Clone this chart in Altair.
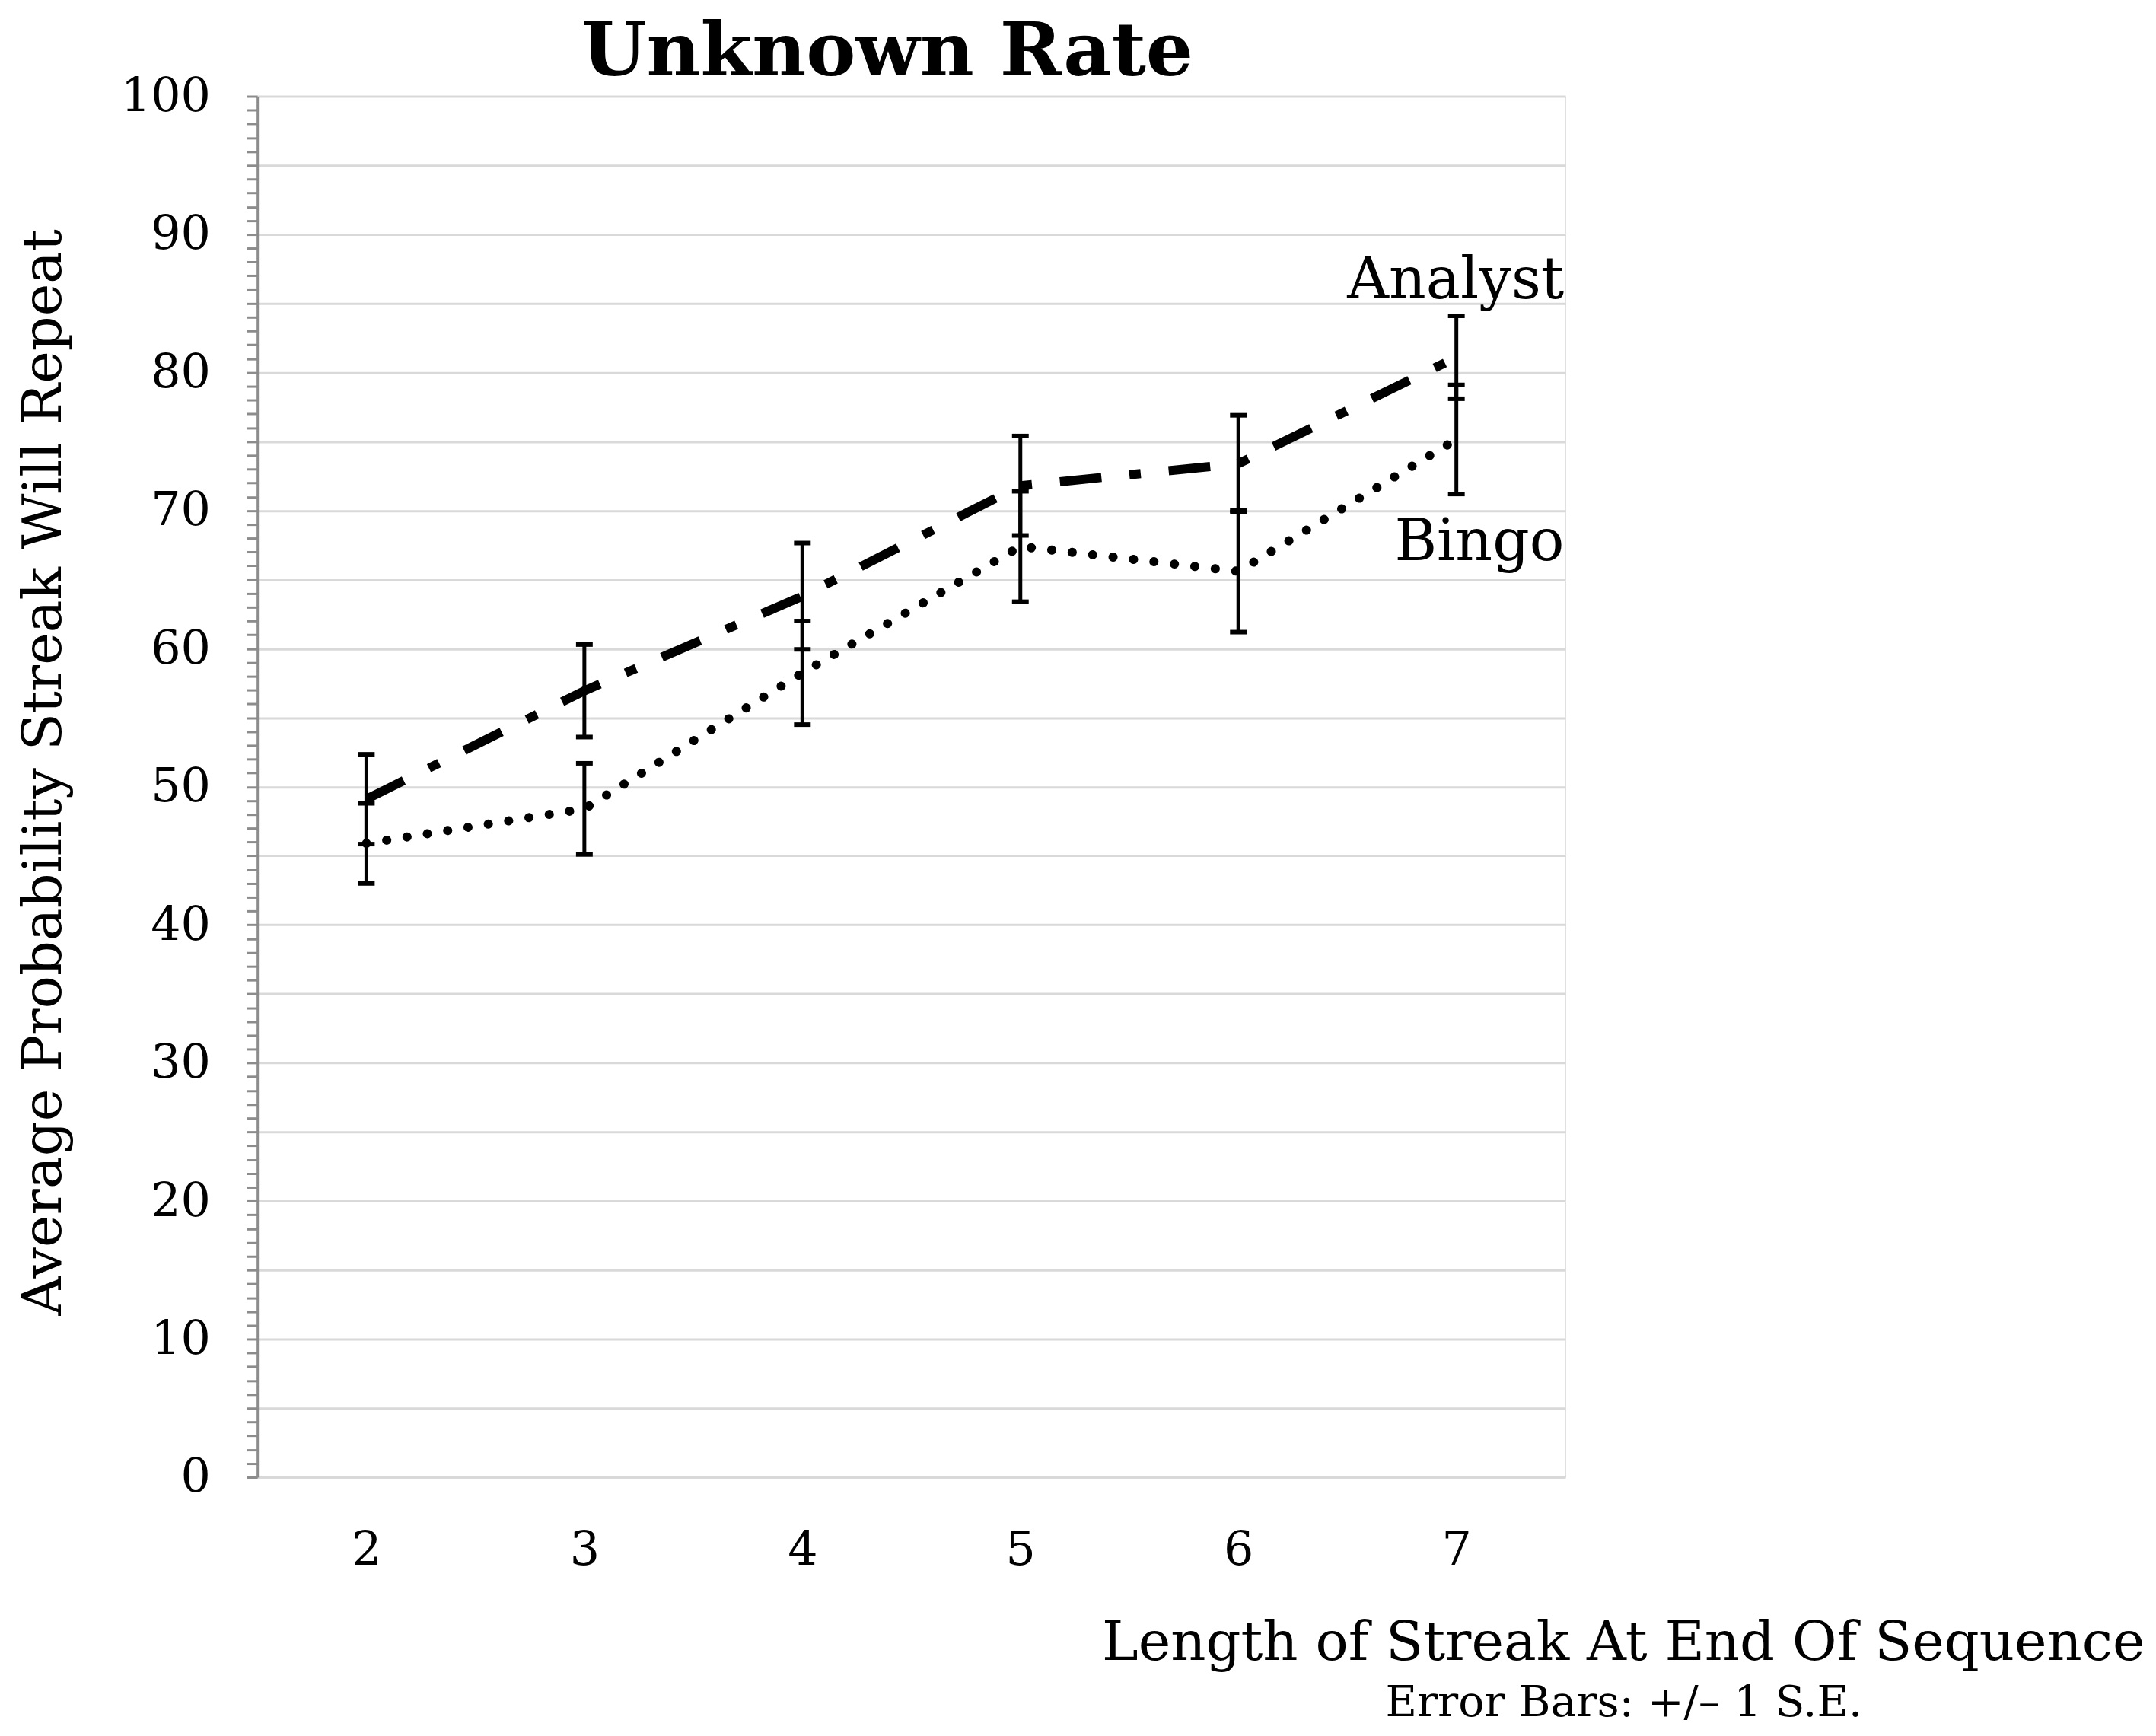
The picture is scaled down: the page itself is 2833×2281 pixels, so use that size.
import altair as alt
import pandas as pd

streak = [2, 3, 4, 5, 6, 7]
analyst_mean = [49.1, 56.95, 63.8, 71.8, 73.4, 81.1]
analyst_se = [3.25, 3.35, 3.85, 3.6, 3.5, 3.0]
bingo_mean = [45.9, 48.4, 58.25, 67.4, 65.6, 75.15]
bingo_se = [2.9, 3.3, 3.75, 4.0, 4.4, 3.95]

series_names = ["Analyst", "Bingo"]
title_text = "Unknown Rate"
y_title = "Average Probability Streak Will Repeat"
x_title = "Length of Streak At End Of Sequence"
footnote = "Error Bars: +/\u2013 1 S.E."

rows = []
for name, means, ses in [("Analyst", analyst_mean, analyst_se), ("Bingo", bingo_mean, bingo_se)]:
    for s, m, e in zip(streak, means, ses):
        rows.append({"streak": s, "value": m, "lo": m - e, "hi": m + e, "series": name})
df = pd.DataFrame(rows)

labels_df = pd.DataFrame({
    "series": series_names,
    "streak": [streak[-1], streak[-1]],
    "value": [analyst_mean[-1], bingo_mean[-1]],
})

FONT = "DejaVu Serif"

xscale = alt.Scale(domain=[1.5, 7.5], nice=False)
yscale = alt.Scale(domain=[0, 100], nice=False)

x_axis = alt.Axis(
    values=streak, format="d", grid=False, domain=False, ticks=False, tickSize=0,
    labelFont=FONT, labelFontSize=62, labelColor="#000", labelBaseline="alphabetic",
    labelPadding=115, labelFlush=False,
    title=x_title, titleFont=FONT, titleFontSize=72, titleFontWeight="normal",
    titleColor="#000", titleAlign="right", titleBaseline="alphabetic",
    titleX=2486, titleY=240, titleAnchor="end",
)

y_axis = alt.Axis(
    values=list(range(0, 101)), tickCount=200, format="d",
    labelExpr="datum.value % 10 === 0 ? datum.label : ''",
    labelOverlap=False, labelFlush=False,
    labelFont=FONT, labelFontSize=62, labelColor="#000", labelPadding=48,
    tickSize=14, tickWidth=3, tickColor="#8c8c8c",
    domainColor="#8c8c8c", domainWidth=3,
    grid=True, gridColor="#d9d9d9", gridWidth=3,
    gridOpacity={"condition": {"test": "datum.value % 5 === 0", "value": 1}, "value": 0},
    title=y_title, titleFont=FONT, titleFontSize=72, titleFontWeight="normal",
    titleColor="#000", titleBaseline="alphabetic", titleAlign="center",
    titleX=-259, titleY=890, titleAngle=270,
)

base = alt.Chart(df)

analyst_line = base.transform_filter(alt.datum.series == "Analyst").mark_line(
    color="#000", strokeWidth=12, strokeDash=[55, 37, 15, 37], strokeCap="butt"
).encode(
    x=alt.X("streak:Q", scale=xscale, axis=x_axis),
    y=alt.Y("value:Q", scale=yscale, axis=y_axis),
)

bingo_line = base.transform_filter(alt.datum.series == "Bingo").mark_line(
    color="#000", strokeWidth=12, strokeDash=[0.1, 27], strokeCap="round"
).encode(
    x=alt.X("streak:Q", scale=xscale),
    y=alt.Y("value:Q", scale=yscale),
)

err_rule = base.mark_rule(color="#000", strokeWidth=5, opacity=1).encode(
    x=alt.X("streak:Q", scale=xscale),
    y=alt.Y("lo:Q", scale=yscale),
    y2="hi:Q",
)

cap_lo = base.mark_tick(color="#000", size=22, thickness=6, opacity=1, orient="horizontal").encode(
    x=alt.X("streak:Q", scale=xscale),
    y=alt.Y("lo:Q", scale=yscale),
)
cap_hi = base.mark_tick(color="#000", size=22, thickness=6, opacity=1, orient="horizontal").encode(
    x=alt.X("streak:Q", scale=xscale),
    y=alt.Y("hi:Q", scale=yscale),
)

lab = alt.Chart(labels_df)
analyst_lab = lab.transform_filter(alt.datum.series == "Analyst").mark_text(
    font=FONT, fontSize=76, color="#000", align="right", baseline="alphabetic", dx=142, dy=-78
).encode(
    x=alt.X("streak:Q", scale=xscale),
    y=alt.Y("value:Q", scale=yscale),
    text="series:N",
)
bingo_lab = lab.transform_filter(alt.datum.series == "Bingo").mark_text(
    font=FONT, fontSize=76, color="#000", align="right", baseline="alphabetic", dx=142, dy=159
).encode(
    x=alt.X("streak:Q", scale=xscale),
    y=alt.Y("value:Q", scale=yscale),
    text="series:N",
)

foot = alt.Chart(pd.DataFrame({"t": [footnote]})).mark_text(
    font=FONT, fontSize=57, color="#000", align="center", baseline="alphabetic"
).encode(
    x=alt.value(1800), y=alt.value(2134), text="t:N"
)

title_mark = alt.Chart(pd.DataFrame({"t": [title_text]})).mark_text(
    font=FONT, fontSize=98, fontWeight="bold", color="#000", align="center", baseline="alphabetic"
).encode(
    x=alt.value(830), y=alt.value(-28), text="t:N"
)

chart = alt.layer(
    analyst_line, bingo_line, err_rule, cap_lo, cap_hi, analyst_lab, bingo_lab, foot, title_mark
).properties(
    width=1723, height=1819,
    autosize=alt.AutoSizeParams(type="none"),
    padding={"left": 331, "top": 116, "right": 770, "bottom": 336},
).configure_view(stroke=None).configure(background="white")

chart.save("out.html", embed_options={"renderer": "svg", "actions": False})
